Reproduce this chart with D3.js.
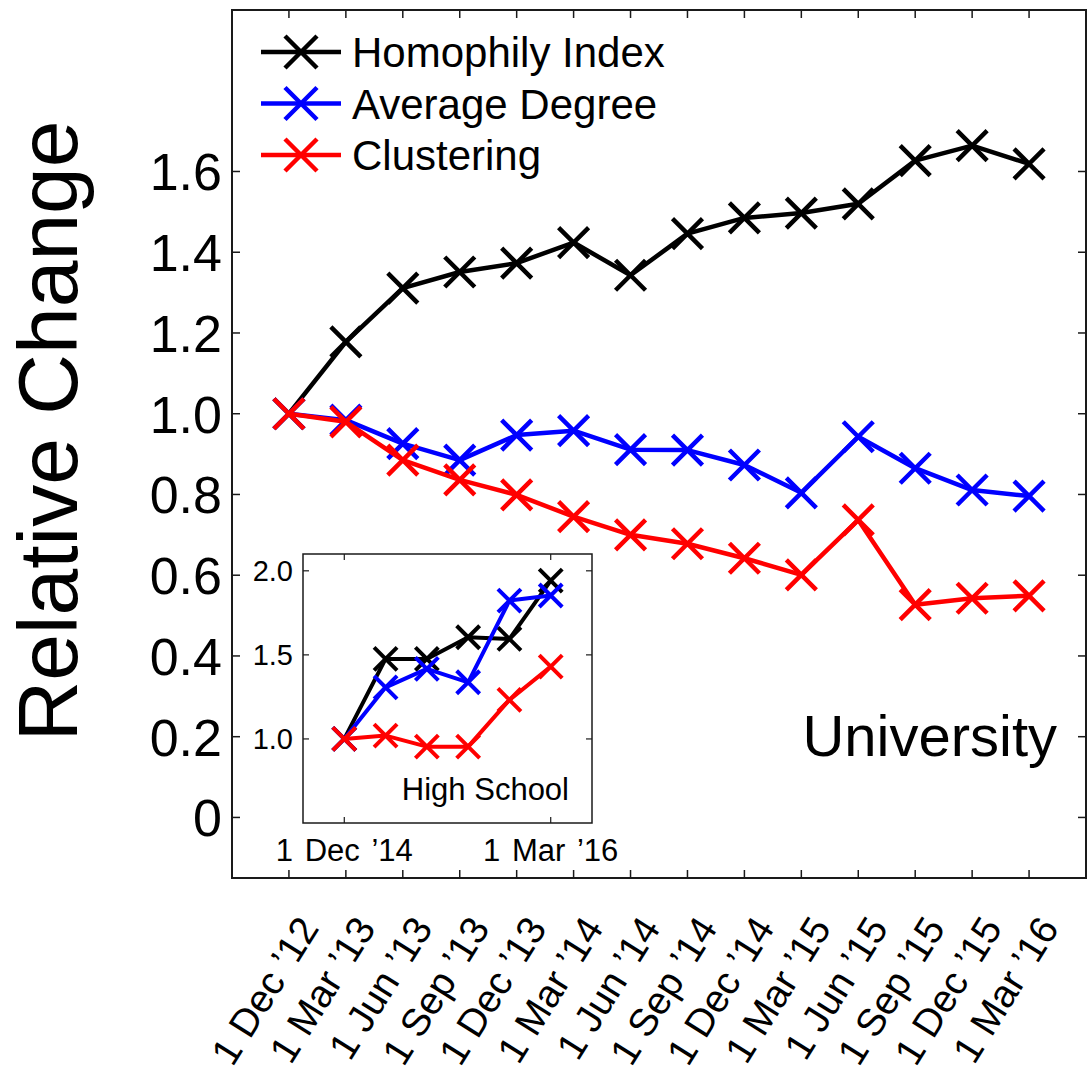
<!DOCTYPE html>
<html>
<head>
<meta charset="utf-8">
<script src="https://d3js.org/d3.v7.min.js"></script>
<style>
  body { margin: 0; background: #fff; }
  text { font-family: "Liberation Sans", Arial, Helvetica, sans-serif; fill: #000; }
</style>
</head>
<body>
<div id="chart"></div>
<script>
// ---- data ----
var dates = ["1 Dec \u201912", "1 Mar \u201913", "1 Jun \u201913", "1 Sep \u201913", "1 Dec \u201913",
  "1 Mar \u201914", "1 Jun \u201914", "1 Sep \u201914", "1 Dec \u201914", "1 Mar \u201915",
  "1 Jun \u201915", "1 Sep \u201915", "1 Dec \u201915", "1 Mar \u201916"];

var uniHomophily = [1.0, 1.178, 1.311, 1.351, 1.373, 1.424, 1.343, 1.446, 1.485, 1.497, 1.520, 1.627, 1.664, 1.619];
var uniDegree = [1.0, 0.984, 0.926, 0.885, 0.947, 0.958, 0.911, 0.910, 0.873, 0.804, 0.943, 0.865, 0.811, 0.796];
var uniClustering = [1.0, 0.980, 0.885, 0.836, 0.799, 0.745, 0.700, 0.678, 0.642, 0.601, 0.737, 0.527, 0.543, 0.549];

var hsDates = ["1 Dec \u201914", "", "", "", "", "1 Mar \u201916"];
var hsHomophily = [1.0, 1.476, 1.476, 1.605, 1.595, 1.942];
var hsDegree = [1.0, 1.307, 1.417, 1.337, 1.823, 1.853];
var hsClustering = [1.0, 1.020, 0.954, 0.954, 1.232, 1.430];

var seriesNames = ["Homophily Index", "Average Degree", "Clustering"];
var seriesColors = ["#000000", "#0000ff", "#ff0000"];

var yTicks = [0, 0.2, 0.4, 0.6, 0.8, 1.0, 1.2, 1.4, 1.6];
var hsYTicks = [1.0, 1.5, 2.0];

// ---- drawing ----
var W = 1091, H = 1072;
var svg = d3.select('#chart').append('svg').attr('width', W).attr('height', H);

var box = {left: 232, right: 1086, top: 10, bottom: 878};
var x = d3.scaleLinear().domain([-1, dates.length]).range([box.left, box.right]);
var y = d3.scaleLinear().domain([-0.15, 2.0]).range([box.bottom, box.top]);

function xMark(g, cx, cy, r, color, w) {
  g.append('path')
    .attr('d', 'M' + (cx - r) + ',' + (cy - r) + 'L' + (cx + r) + ',' + (cy + r) +
               'M' + (cx - r) + ',' + (cy + r) + 'L' + (cx + r) + ',' + (cy - r))
    .style('stroke', color).style('stroke-width', w).style('fill', 'none');
}

function drawSeries(g, xs, ys, values, color, lw, mr) {
  var line = d3.line().x(function(d, i){ return xs(i); }).y(function(d){ return ys(d); });
  g.append('path').datum(values).attr('d', line)
    .style('fill', 'none').style('stroke', color).style('stroke-width', lw)
    .style('stroke-linejoin', 'round');
  values.forEach(function(v, i){ xMark(g, xs(i), ys(v), mr, color, lw); });
}

// main axes box + ticks
var axisColor = '#1a1a1a';
svg.append('rect').attr('x', box.left).attr('y', box.top)
  .attr('width', box.right - box.left).attr('height', box.bottom - box.top)
  .style('fill', 'none').style('stroke', axisColor).style('stroke-width', 2);

var tickLen = 8;
dates.forEach(function(d, i){
  svg.append('line').attr('x1', x(i)).attr('x2', x(i)).attr('y1', box.bottom).attr('y2', box.bottom - tickLen)
    .style('stroke', axisColor).style('stroke-width', 1.5);
  svg.append('line').attr('x1', x(i)).attr('x2', x(i)).attr('y1', box.top).attr('y2', box.top + tickLen)
    .style('stroke', axisColor).style('stroke-width', 1.5);
  svg.append('text')
    .attr('transform', 'translate(' + (x(i) + 31) + ',' + 928 + ') rotate(-58)')
    .attr('text-anchor', 'end')
    .style('font-size', '39px')
    .text(d);
});

yTicks.forEach(function(t){
  svg.append('line').attr('x1', box.left).attr('x2', box.left + tickLen).attr('y1', y(t)).attr('y2', y(t))
    .style('stroke', axisColor).style('stroke-width', 1.5);
  svg.append('line').attr('x1', box.right).attr('x2', box.right - tickLen).attr('y1', y(t)).attr('y2', y(t))
    .style('stroke', axisColor).style('stroke-width', 1.5);
  svg.append('text').attr('x', 222).attr('y', y(t) + 19)
    .attr('text-anchor', 'end').style('font-size', '52px')
    .text(t === 0 ? '0' : d3.format('.1f')(t));
});

svg.append('text')
  .attr('transform', 'translate(77,431) rotate(-90)')
  .attr('text-anchor', 'middle').style('font-size', '84px')
  .text('Relative Change');

// main series
var main = svg.append('g');
[uniHomophily, uniDegree, uniClustering].forEach(function(vals, k){
  drawSeries(main, x, y, vals, seriesColors[k], 4.5, 15);
});

svg.append('text').attr('x', 1057).attr('y', 756).attr('text-anchor', 'end')
  .style('font-size', '58px').text('University');

// legend
seriesNames.forEach(function(name, k){
  var ly = 52 + k * 51.5;
  svg.append('line').attr('x1', 261).attr('x2', 341).attr('y1', ly).attr('y2', ly)
    .style('stroke', seriesColors[k]).style('stroke-width', 4.5);
  xMark(svg, 301, ly, 16, seriesColors[k], 4.5);
  svg.append('text').attr('x', 352).attr('y', ly + 15).style('font-size', '42px').text(name);
});

// inset
var ib = {left: 303, right: 592, top: 554, bottom: 823};
var ix = d3.scaleLinear().domain([-1, hsDates.length]).range([ib.left, ib.right]);
var iy = d3.scaleLinear().domain([0.5, 2.1]).range([ib.bottom, ib.top]);
var inset = svg.append('g');
inset.append('rect').attr('x', ib.left).attr('y', ib.top)
  .attr('width', ib.right - ib.left).attr('height', ib.bottom - ib.top)
  .style('fill', '#fff').style('stroke', axisColor).style('stroke-width', 1.5);

hsYTicks.forEach(function(t){
  inset.append('line').attr('x1', ib.left).attr('x2', ib.left + 6).attr('y1', iy(t)).attr('y2', iy(t))
    .style('stroke', axisColor).style('stroke-width', 1.2);
  inset.append('line').attr('x1', ib.right).attr('x2', ib.right - 6).attr('y1', iy(t)).attr('y2', iy(t))
    .style('stroke', axisColor).style('stroke-width', 1.2);
  inset.append('text').attr('x', 293).attr('y', iy(t) + 10)
    .attr('text-anchor', 'end').style('font-size', '29px').text(d3.format('.1f')(t));
});
hsDates.forEach(function(d, i){
  if (!d) return;
  inset.append('line').attr('x1', ix(i)).attr('x2', ix(i)).attr('y1', ib.bottom).attr('y2', ib.bottom - 6)
    .style('stroke', axisColor).style('stroke-width', 1.2);
  inset.append('line').attr('x1', ix(i)).attr('x2', ix(i)).attr('y1', ib.top).attr('y2', ib.top + 6)
    .style('stroke', axisColor).style('stroke-width', 1.2);
  inset.append('text').attr('x', ix(i)).attr('y', 861)
    .attr('text-anchor', 'middle').style('font-size', '31px').style('word-spacing', '3px').text(d);
});

[hsHomophily, hsDegree, hsClustering].forEach(function(vals, k){
  drawSeries(inset, ix, iy, vals, seriesColors[k], 4, 11.5);
});

inset.append('text').attr('x', 569).attr('y', 800).attr('text-anchor', 'end')
  .style('font-size', '31px').text('High School');
</script>
</body>
</html>
